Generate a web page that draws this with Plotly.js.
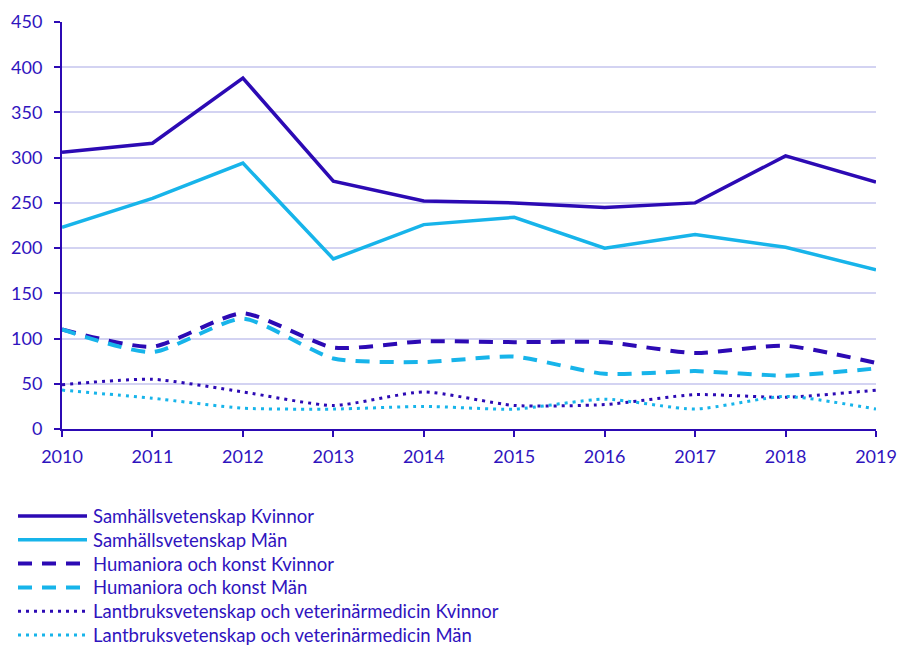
<!DOCTYPE html>
<html>
<head>
<meta charset="utf-8">
<script src="https://cdn.plot.ly/plotly-3.0.1.min.js"></script>
<style>
  html, body { margin: 0; padding: 0; background: #fff; }
  #chart { width: 903px; height: 648px; }
</style>
</head>
<body>
<div id="chart"></div>
<script>
const years = ['2010', '2011', '2012', '2013', '2014', '2015', '2016', '2017', '2018', '2019'];

const samhKvinnor = [306, 316, 388, 274, 252, 250, 245, 250, 302, 273];
const samhMan = [223, 255, 294, 188, 226, 234, 200, 215, 201, 176];
const humKvinnor = [110, 91, 128, 90, 97, 96, 96, 84, 92, 73];
const humMan = [110, 85, 122, 78, 74, 80, 61, 64, 59, 67];
const lantKvinnor = [49, 55, 41, 26, 41, 26, 27, 38, 35, 43];
const lantMan = [43, 34, 23, 22, 25, 22, 33, 22, 36, 22];

const names = [
  'Samhällsvetenskap Kvinnor',
  'Samhällsvetenskap Män',
  'Humaniora och konst Kvinnor',
  'Humaniora och konst Män',
  'Lantbruksvetenskap och veterinärmedicin Kvinnor',
  'Lantbruksvetenskap och veterinärmedicin Män'
];

const dark = '#2C0AB4';
const light = '#17B4EA';
const textColor = '#2F14BE';
const dashed = '14px,10px';
const dotted = '3px,5px';

const styles = [
  { color: dark, dash: 'solid', width: 3.5, shape: 'linear' },
  { color: light, dash: 'solid', width: 3.5, shape: 'linear' },
  { color: dark, dash: dashed, width: 4, shape: 'spline' },
  { color: light, dash: dashed, width: 4, shape: 'spline' },
  { color: dark, dash: dotted, width: 3, shape: 'spline' },
  { color: light, dash: dotted, width: 3, shape: 'spline' }
];
const series = [samhKvinnor, samhMan, humKvinnor, humMan, lantKvinnor, lantMan];

const data = series.map((y, i) => ({
  x: years,
  y: y,
  name: names[i],
  type: 'scatter',
  mode: 'lines',
  line: { color: styles[i].color, width: styles[i].width, dash: styles[i].dash, shape: styles[i].shape, smoothing: 0.6 }
}));

// plot area in pixels, used to place the hand-made legend below it
const plotTop = 22, plotBottom = 429, plotLeft = 62, plotRight = 876;
const toPaperX = px => (px - plotLeft) / (plotRight - plotLeft);
const toPaperY = py => (plotBottom - py) / (plotBottom - plotTop);

const shapes = [];
const annotations = [];
names.forEach((name, i) => {
  const rowY = 516 + i * 23.8;
  shapes.push({
    type: 'line', xref: 'paper', yref: 'paper',
    x0: toPaperX(18), x1: toPaperX(87), y0: toPaperY(rowY), y1: toPaperY(rowY),
    line: { color: styles[i].color, width: styles[i].width, dash: styles[i].dash }
  });
  annotations.push({
    xref: 'paper', yref: 'paper',
    x: toPaperX(91), y: toPaperY(rowY),
    xanchor: 'left', yanchor: 'middle',
    text: name, showarrow: false,
    font: { size: 18.5, color: textColor }
  });
});

const layout = {
  width: 903,
  height: 648,
  margin: { l: plotLeft, r: 903 - plotRight, t: plotTop, b: 648 - plotBottom },
  paper_bgcolor: '#ffffff',
  plot_bgcolor: '#ffffff',
  font: { family: 'Lato, "Open Sans", sans-serif', size: 18, color: textColor },
  showlegend: false,
  shapes,
  annotations,
  xaxis: {
    type: 'category',
    range: [0, 9],
    showgrid: false,
    showline: true,
    linecolor: dark,
    linewidth: 2,
    ticks: 'outside',
    ticklen: 6,
    tickwidth: 2,
    tickcolor: dark,
    ticklabelstandoff: 4,
    tickfont: { size: 18, color: textColor },
    zeroline: false
  },
  yaxis: {
    range: [0, 450],
    dtick: 50,
    showgrid: true,
    gridcolor: '#D3D3F2',
    gridwidth: 2,
    showline: true,
    linecolor: dark,
    linewidth: 2,
    ticks: 'outside',
    ticklen: 6,
    tickwidth: 2,
    tickcolor: dark,
    ticklabelstandoff: 8,
    tickfont: { size: 18, color: textColor },
    zeroline: false
  }
};

Plotly.newPlot('chart', data, layout, { displayModeBar: false, staticPlot: true });
</script>
</body>
</html>
